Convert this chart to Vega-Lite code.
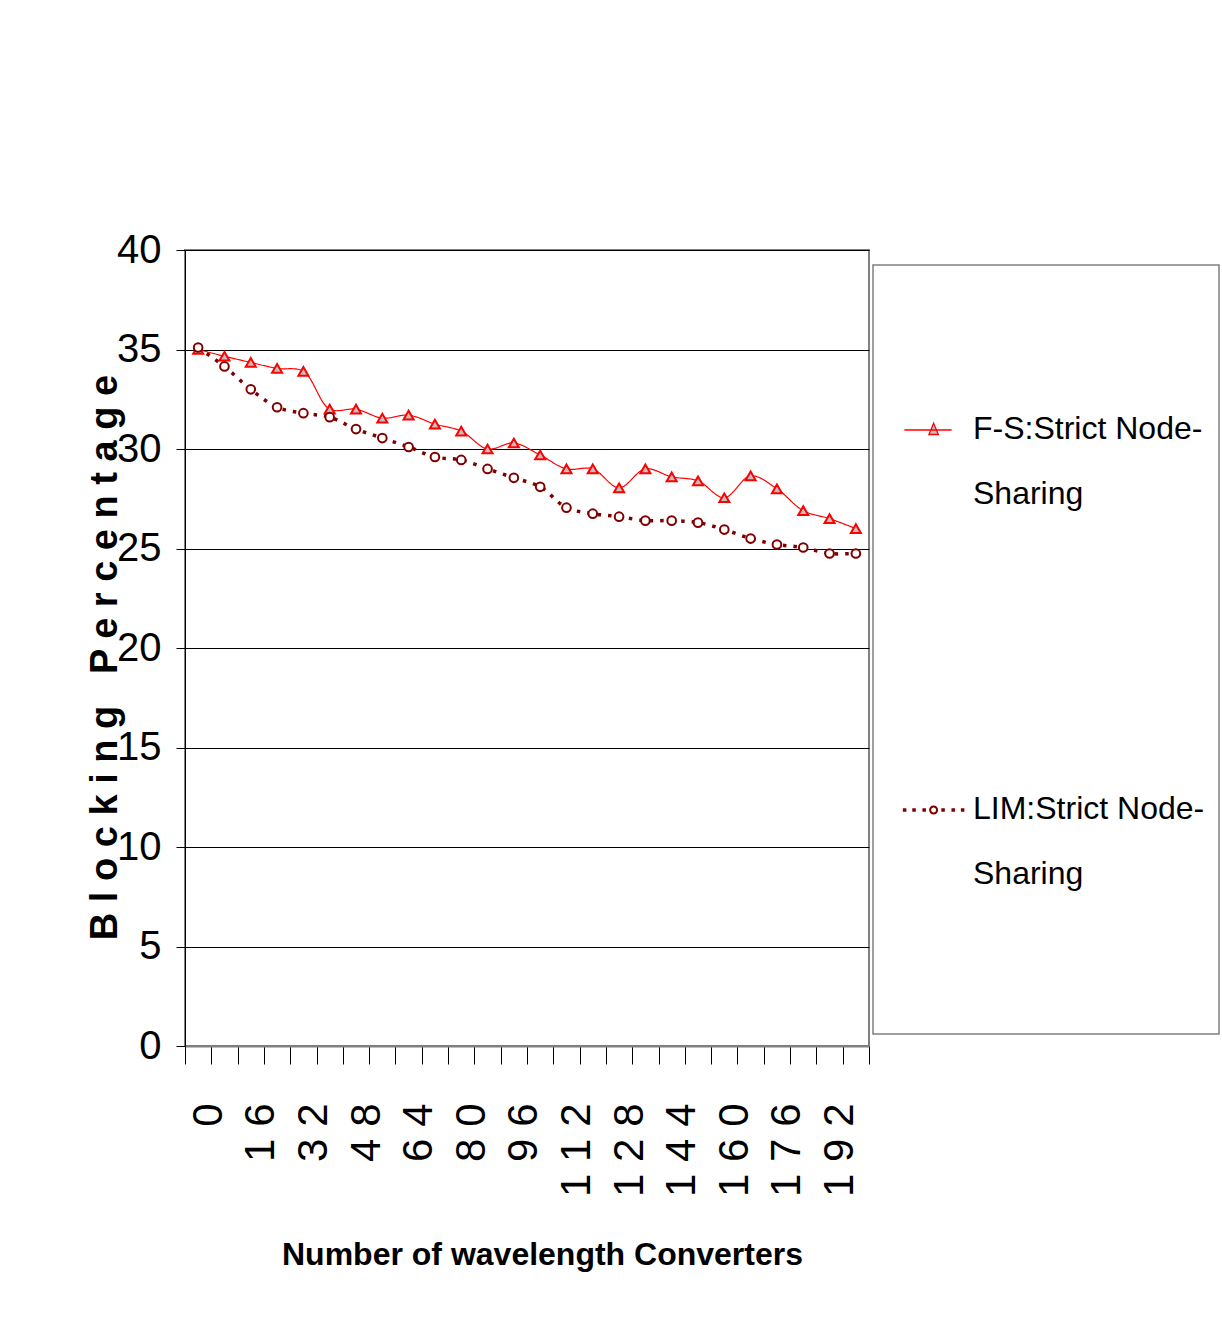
{
  "$schema": "https://vega.github.io/schema/vega-lite/v6.json",
  "width": 684,
  "height": 796,
  "autosize": {"type": "none"},
  "padding": {"left": 185, "top": 250, "right": 353, "bottom": 283},
  "background": "white",
  "config": {
    "view": {"stroke": "#808080", "strokeWidth": 2},
    "font": "Liberation Sans"
  },
  "data": {
    "values": [
      {"converters": 0, "series": "F-S:Strict Node-Sharing", "blocking": 35.0},
      {"converters": 8, "series": "F-S:Strict Node-Sharing", "blocking": 34.66},
      {"converters": 16, "series": "F-S:Strict Node-Sharing", "blocking": 34.35},
      {"converters": 24, "series": "F-S:Strict Node-Sharing", "blocking": 34.05},
      {"converters": 32, "series": "F-S:Strict Node-Sharing", "blocking": 33.9},
      {"converters": 40, "series": "F-S:Strict Node-Sharing", "blocking": 32.0},
      {"converters": 48, "series": "F-S:Strict Node-Sharing", "blocking": 32.0},
      {"converters": 56, "series": "F-S:Strict Node-Sharing", "blocking": 31.55},
      {"converters": 64, "series": "F-S:Strict Node-Sharing", "blocking": 31.7},
      {"converters": 72, "series": "F-S:Strict Node-Sharing", "blocking": 31.25},
      {"converters": 80, "series": "F-S:Strict Node-Sharing", "blocking": 30.9},
      {"converters": 88, "series": "F-S:Strict Node-Sharing", "blocking": 30.0},
      {"converters": 96, "series": "F-S:Strict Node-Sharing", "blocking": 30.3},
      {"converters": 104, "series": "F-S:Strict Node-Sharing", "blocking": 29.7},
      {"converters": 112, "series": "F-S:Strict Node-Sharing", "blocking": 29.0},
      {"converters": 120, "series": "F-S:Strict Node-Sharing", "blocking": 29.0},
      {"converters": 128, "series": "F-S:Strict Node-Sharing", "blocking": 28.05},
      {"converters": 136, "series": "F-S:Strict Node-Sharing", "blocking": 29.0},
      {"converters": 144, "series": "F-S:Strict Node-Sharing", "blocking": 28.6},
      {"converters": 152, "series": "F-S:Strict Node-Sharing", "blocking": 28.4},
      {"converters": 160, "series": "F-S:Strict Node-Sharing", "blocking": 27.55},
      {"converters": 168, "series": "F-S:Strict Node-Sharing", "blocking": 28.65},
      {"converters": 176, "series": "F-S:Strict Node-Sharing", "blocking": 28.0},
      {"converters": 184, "series": "F-S:Strict Node-Sharing", "blocking": 26.9},
      {"converters": 192, "series": "F-S:Strict Node-Sharing", "blocking": 26.5},
      {"converters": 200, "series": "F-S:Strict Node-Sharing", "blocking": 26.0},
      {"converters": 0, "series": "LIM:Strict Node-Sharing", "blocking": 35.1},
      {"converters": 8, "series": "LIM:Strict Node-Sharing", "blocking": 34.15},
      {"converters": 16, "series": "LIM:Strict Node-Sharing", "blocking": 33.0},
      {"converters": 24, "series": "LIM:Strict Node-Sharing", "blocking": 32.1},
      {"converters": 32, "series": "LIM:Strict Node-Sharing", "blocking": 31.8},
      {"converters": 40, "series": "LIM:Strict Node-Sharing", "blocking": 31.6},
      {"converters": 48, "series": "LIM:Strict Node-Sharing", "blocking": 31.0},
      {"converters": 56, "series": "LIM:Strict Node-Sharing", "blocking": 30.55},
      {"converters": 64, "series": "LIM:Strict Node-Sharing", "blocking": 30.1},
      {"converters": 72, "series": "LIM:Strict Node-Sharing", "blocking": 29.6},
      {"converters": 80, "series": "LIM:Strict Node-Sharing", "blocking": 29.45},
      {"converters": 88, "series": "LIM:Strict Node-Sharing", "blocking": 29.0},
      {"converters": 96, "series": "LIM:Strict Node-Sharing", "blocking": 28.55},
      {"converters": 104, "series": "LIM:Strict Node-Sharing", "blocking": 28.1},
      {"converters": 112, "series": "LIM:Strict Node-Sharing", "blocking": 27.05},
      {"converters": 120, "series": "LIM:Strict Node-Sharing", "blocking": 26.75},
      {"converters": 128, "series": "LIM:Strict Node-Sharing", "blocking": 26.6},
      {"converters": 136, "series": "LIM:Strict Node-Sharing", "blocking": 26.4},
      {"converters": 144, "series": "LIM:Strict Node-Sharing", "blocking": 26.4},
      {"converters": 152, "series": "LIM:Strict Node-Sharing", "blocking": 26.3},
      {"converters": 160, "series": "LIM:Strict Node-Sharing", "blocking": 25.95},
      {"converters": 168, "series": "LIM:Strict Node-Sharing", "blocking": 25.5},
      {"converters": 176, "series": "LIM:Strict Node-Sharing", "blocking": 25.2},
      {"converters": 184, "series": "LIM:Strict Node-Sharing", "blocking": 25.05},
      {"converters": 192, "series": "LIM:Strict Node-Sharing", "blocking": 24.75},
      {"converters": 200, "series": "LIM:Strict Node-Sharing", "blocking": 24.75}
    ]
  },
  "encoding": {
    "x": {
      "field": "converters",
      "type": "ordinal",
      "scale": {"type": "band", "paddingInner": 0, "paddingOuter": 0},
      "axis": {
        "title": "Number of wavelength Converters",
        "titleFont": "Liberation Sans",
        "titleFontWeight": "bold",
        "titleFontSize": 32,
        "titleColor": "black",
        "titleX": 357,
        "titleY": 218,
        "titleAlign": "center",
        "titleBaseline": "alphabetic",
        "labelAngle": -90,
        "labelFont": "Liberation Sans",
        "labelFontSize": 42,
        "labelColor": "black",
        "labelPadding": 39,
        "labelOffset": 10,
        "labelOverlap": false,
        "labelExpr": "datum.value % 16 === 0 ? join(split(toString(datum.value), ''), ' ') : ''",
        "tickBand": "extent",
        "tickSize": 18,
        "tickColor": "black",
        "domainColor": "#808080",
        "domainWidth": 2,
        "grid": false
      }
    },
    "y": {
      "field": "blocking",
      "type": "quantitative",
      "scale": {"domain": [0, 40], "nice": false},
      "axis": {
        "values": [0, 5, 10, 15, 20, 25, 30, 35, 40],
        "title": "B l o c k i n g \u00a0 P e r c e n t a g e",
        "titleFont": "Liberation Sans",
        "titleFontWeight": "bold",
        "titleFontSize": 38,
        "titleColor": "black",
        "titleAngle": 270,
        "titleX": -69,
        "titleY": 407,
        "titleAlign": "center",
        "titleBaseline": "alphabetic",
        "labelFont": "Liberation Sans",
        "labelFontSize": 40,
        "labelColor": "black",
        "labelPadding": 15,
        "tickSize": 9,
        "tickColor": "black",
        "domainColor": "black",
        "grid": true,
        "gridColor": "black",
        "gridWidth": 1
      }
    }
  },
  "layer": [
    {
      "mark": {"type": "line", "interpolate": "catmull-rom", "strokeCap": "butt"},
      "encoding": {
        "stroke": {
          "field": "series",
          "type": "nominal",
          "scale": {"domain": ["F-S:Strict Node-Sharing", "LIM:Strict Node-Sharing"], "range": ["#FF0000", "#800000"]},
          "legend": {
            "orient": "none", "legendX": 688, "legendY": 15, "direction": "vertical",
            "title": " ", "titleOrient": "top", "titleFontSize": 50, "titlePadding": 85,
            "padding": 14, "strokeColor": "#808080",
            "symbolType": "stroke", "symbolSize": 2025, "symbolOffset": 25,
            "labelFont": "Liberation Sans",
            "labelFontSize": 32, "labelColor": "black", "labelOffset": 29, "labelLimit": 400, "labelBaseline": "top",
            "labelExpr": "[slice(datum.label, 0, -7), 'Sharing', '', '']",
            "rowPadding": 153,
            "encode": {
              "legend": {"update": {"strokeWidth": {"value": 1.5}}},
              "labels": {"update": {"lineHeight": {"value": 65}, "dy": {"value": -16}}},
              "symbols": {"update": {
                "shape": {"signal": "datum.value === 'LIM:Strict Node-Sharing' ? 'M-1.118,-0.078h0.156v0.156h-0.156ZM-0.698,-0.078h0.156v0.156h-0.156ZM-0.248,-0.078h0.156v0.156h-0.156ZM0.592,-0.078h0.156v0.156h-0.156ZM1.042,-0.078h0.156v0.156h-0.156ZM1.462,-0.078h0.156v0.156h-0.156ZM0.05,0A0.2,0.2,0,1,1,0.45,0A0.2,0.2,0,1,1,0.05,0ZM0.14,0A0.11,0.11,0,1,0,0.36,0A0.11,0.11,0,1,0,0.14,0Z' : 'M-1.05,0H1.05M0.25,-0.3L0.46,0.2L0.04,0.2Z'"},
                "fill": {"signal": "datum.value === 'LIM:Strict Node-Sharing' ? '#800000' : '#C0C0C0'"},
                "stroke": {"signal": "datum.value === 'LIM:Strict Node-Sharing' ? 'transparent' : '#FF0000'"},
                "strokeWidth": {"signal": "datum.value === 'LIM:Strict Node-Sharing' ? 0 : 1.3"},
                "strokeDash": {"value": [1, 0]}
              }}
            }
          }
        },
        "strokeDash": {
          "field": "series",
          "type": "nominal",
          "scale": {"domain": ["F-S:Strict Node-Sharing", "LIM:Strict Node-Sharing"], "range": [[1, 0], [3.5, 7]]},
          "legend": {
            "orient": "none", "legendX": 688, "legendY": 15, "direction": "vertical",
            "title": " ", "titleOrient": "top", "titleFontSize": 50, "titlePadding": 85,
            "padding": 14, "strokeColor": "#808080",
            "symbolType": "stroke", "symbolSize": 2025, "symbolOffset": 25,
            "labelFont": "Liberation Sans",
            "labelFontSize": 32, "labelColor": "black", "labelOffset": 29, "labelLimit": 400, "labelBaseline": "top",
            "labelExpr": "[slice(datum.label, 0, -7), 'Sharing', '', '']",
            "rowPadding": 153,
            "encode": {
              "legend": {"update": {"strokeWidth": {"value": 1.5}}},
              "labels": {"update": {"lineHeight": {"value": 65}, "dy": {"value": -16}}},
              "symbols": {"update": {
                "shape": {"signal": "datum.value === 'LIM:Strict Node-Sharing' ? 'M-1.118,-0.078h0.156v0.156h-0.156ZM-0.698,-0.078h0.156v0.156h-0.156ZM-0.248,-0.078h0.156v0.156h-0.156ZM0.592,-0.078h0.156v0.156h-0.156ZM1.042,-0.078h0.156v0.156h-0.156ZM1.462,-0.078h0.156v0.156h-0.156ZM0.05,0A0.2,0.2,0,1,1,0.45,0A0.2,0.2,0,1,1,0.05,0ZM0.14,0A0.11,0.11,0,1,0,0.36,0A0.11,0.11,0,1,0,0.14,0Z' : 'M-1.05,0H1.05M0.25,-0.3L0.46,0.2L0.04,0.2Z'"},
                "fill": {"signal": "datum.value === 'LIM:Strict Node-Sharing' ? '#800000' : '#C0C0C0'"},
                "stroke": {"signal": "datum.value === 'LIM:Strict Node-Sharing' ? 'transparent' : '#FF0000'"},
                "strokeWidth": {"signal": "datum.value === 'LIM:Strict Node-Sharing' ? 0 : 1.3"},
                "strokeDash": {"value": [1, 0]}
              }}
            }
          }
        },
        "strokeWidth": {
          "condition": {"test": "datum.series === 'LIM:Strict Node-Sharing'", "value": 3.5},
          "value": 1.2
        }
      }
    },
    {
      "mark": {"type": "point", "filled": true, "strokeWidth": 2, "opacity": 1},
      "encoding": {
        "shape": {
          "field": "series",
          "type": "nominal",
          "scale": {"range": ["triangle-up", "circle"]},
          "legend": null
        },
        "color": {
          "field": "series",
          "type": "nominal",
          "scale": {"range": ["#C0C0C0", "#FFFFFF"]},
          "legend": null
        },
        "size": {
          "condition": {"test": "datum.series === 'LIM:Strict Node-Sharing'", "value": 75},
          "value": 100
        },
        "stroke": {
          "condition": {"test": "datum.series === 'LIM:Strict Node-Sharing'", "value": "#800000"},
          "value": "#FF0000"
        }
      }
    }
  ]
}
